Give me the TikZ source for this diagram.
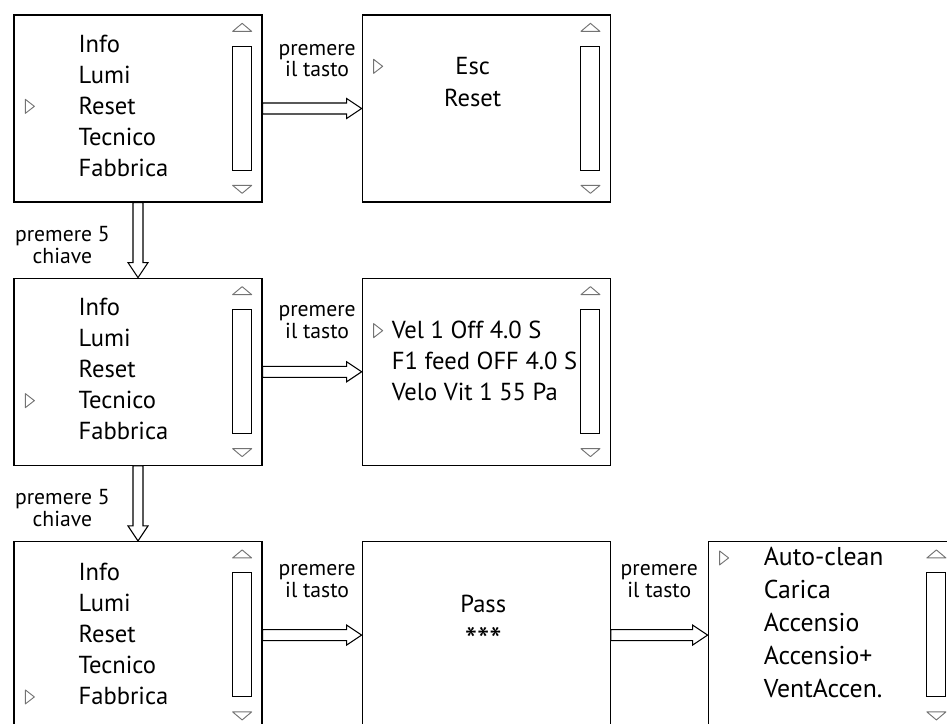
\documentclass[tikz,border=0pt]{standalone}
\usepackage{fontspec}
\setmainfont{PT Sans}
\usetikzlibrary{positioning,calc}

% scroll bar at the right side of a screen
\newcommand{\menuscroll}[1]{%
  \draw[scrolltri] ($(#1.north east)+(-30,-17)$) -- ++(9.5,8) -- ++(9.5,-8) -- cycle;
  \draw[scrollrect] ($(#1.north east)+(-30,-32)$) rectangle ++(19,-124);
  \draw[scrolltri] ($(#1.north east)+(-30,-171)$) -- ++(9.5,-8) -- ++(9.5,8) -- cycle;
}
% cursor in front of the selected row
\newcommand{\menupointer}[2]{%
  \draw[scrolltri] (#1.west |- #2.base) ++(12,15) -- ++(9,-7) -- ++(-9,-7) -- cycle;
}
% hollow block arrows between screens
\newcommand{\hollowright}[2]{%
  \draw[fatarrow] ($(#1.east)+(0,5.5)$) -- ($(#2.west)+(-15,5.5)$) -- ++(0,4.5) -- (#2.west)
    -- ++(-15,-10) -- ++(0,4.5) -- ($(#1.east)+(0,-5.5)$) -- cycle;
}
\newcommand{\hollowdown}[2]{%
  \draw[fatarrow] ($(#1.south)+(-5,0)$) -- ($(#2.north)+(-5,15)$) -- ++(-5,0) -- (#2.north)
    -- ++(10,15) -- ++(-5,0) -- ($(#1.south)+(5,0)$) -- cycle;
}

\begin{document}
\begin{tikzpicture}[x=0.3mm,y=0.3mm,
  screen/.style={draw,line width=1.1pt,minimum width=7.44cm,minimum height=5.61cm,inner sep=0pt},
  item/.style={anchor=base west,inner sep=0pt,font=\fontsize{21}{25}\selectfont},
  lbl/.style={inner sep=0pt,align=center,font=\fontsize{18.5}{18.7}\selectfont},
  scrolltri/.style={draw=black!55,line width=0.8pt,line join=round},
  scrollrect/.style={draw,line width=0.8pt},
  fatarrow/.style={draw,line width=0.9pt,fill=white}
]
  \useasboundingbox (0,0) rectangle (947,724);
  \clip (0,0) rectangle (947,724);

  % screens
  \node[screen] (lev1) at (138,615.5) {};
  \node[screen,right=2.97cm of lev1] (esc) {};
  \node[screen,below=2.25cm of lev1] (tec) {};
  \node[screen,right=2.97cm of tec] (vel) {};
  \node[screen,below=2.25cm of tec] (fab) {};
  \node[screen,right=2.97cm of fab] (pass) {};
  \node[screen,right=2.9cm of pass] (auto) {};

  % main menu, three times
  \foreach \txt [count=\i from 0] in {Info,Lumi,Reset,Tecnico,Fabbrica} {
    \node[item] (lev1-\i) at ($(lev1.north west)+(65,{-38-31*\i})$) {\txt};
    \node[item] (tec-\i) at ($(tec.north west)+(65,{-38-31*\i})$) {\txt};
    \node[item] (fab-\i) at ($(fab.north west)+(65,{-40-31*\i})$) {\txt};
  }
  \menupointer{lev1}{lev1-2}
  \menupointer{tec}{tec-3}
  \menupointer{fab}{fab-4}

  % reset screen
  \node[item,anchor=base] (esc-0) at ($(esc.north west)+(111,-60)$) {Esc};
  \node[item,anchor=base] (esc-1) at ($(esc.north west)+(111,-92)$) {Reset};
  \menupointer{esc}{esc-0}

  % technical screen
  \foreach \txt [count=\i from 0] in {Vel 1 Off 4.0 S,F1 feed OFF 4.0 S,Velo Vit 1 55 Pa}
    \node[item] (vel-\i) at ($(vel.north west)+(30,{-61-31*\i})$) {\txt};
  \menupointer{vel}{vel-0}

  % password screen
  \node[item,anchor=base] (pass-0) at ($(pass.north)+(-3,-72)$) {Pass};
  \node[item,anchor=base,font=\fontsize{30}{30}\selectfont] (pass-1) at ($(pass.north)+(-3,-112)$) {***};

  % factory screen
  \foreach \txt [count=\i from 0] in {Auto-clean,Carica,Accensio,Accensio+,VentAccen.}
    \node[item,font=\fontsize{22}{26}\selectfont] (auto-\i) at ($(auto.north west)+(56,{-25-33*\i})$) {\txt};
  \menupointer{auto}{auto-0}

  \foreach \scr in {lev1,esc,tec,vel,fab,auto} {
    \menuscroll{\scr}
  }

  % arrows
  \hollowright{lev1}{esc}
  \hollowright{tec}{vel}
  \hollowright{fab}{pass}
  \hollowright{pass}{auto}
  \hollowdown{lev1}{tec}
  \hollowdown{tec}{fab}

  % labels
  \node[lbl,anchor=south] (k1) at ($(lev1.east)!0.5!(esc.west)+(5,31)$) {premere\\il tasto};
  \node[lbl,anchor=south] (k2) at ($(tec.east)!0.5!(vel.west)+(5,33)$) {premere\\il tasto};
  \node[lbl,anchor=south] (k3) at ($(fab.east)!0.5!(pass.west)+(5,37)$) {premere\\il tasto};
  \node[lbl,anchor=south] (k4) at ($(pass.east)!0.5!(auto.west)+(0,37)$) {premere\\il tasto};
  \node[lbl,anchor=east] (k5) at ($(lev1.south)!0.5!(tec.north)+(-28,-4.5)$) {premere 5\\chiave};
  \node[lbl,anchor=east] (k6) at ($(tec.south)!0.5!(fab.north)+(-28,-4.5)$) {premere 5\\chiave};
\end{tikzpicture}
\end{document}
